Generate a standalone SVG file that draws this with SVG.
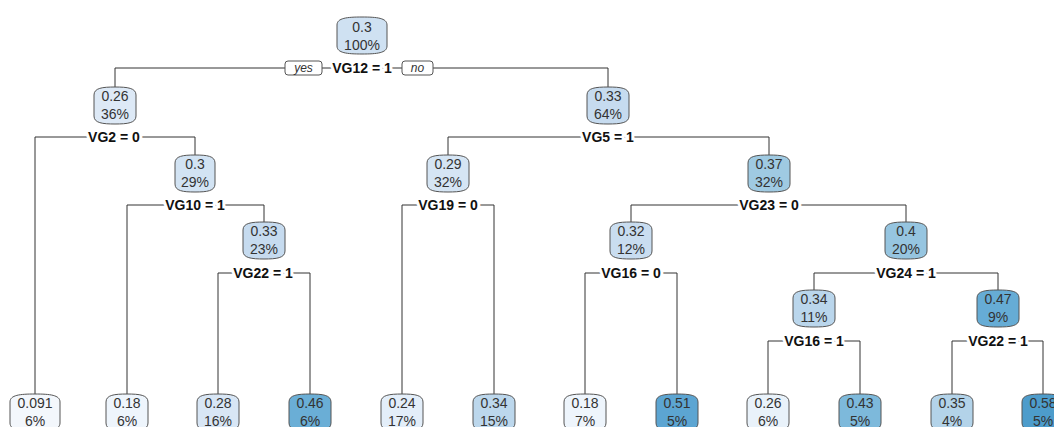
<svg xmlns="http://www.w3.org/2000/svg" xmlns:xlink="http://www.w3.org/1999/xlink" width="1054" height="427" viewBox="0 0 1054 427">
<style>
.bx{stroke:#555;stroke-width:1}
.nt{font-family:"Liberation Sans",Arial,sans-serif;font-size:14px;fill:#333;text-anchor:middle}
.sp{font-family:"Liberation Sans",Arial,sans-serif;font-size:14px;font-weight:bold;fill:#111;text-anchor:middle;stroke:#fff;stroke-width:6;stroke-linejoin:round;paint-order:stroke}
.yn{font-family:"Liberation Sans",Arial,sans-serif;font-size:12px;font-style:italic;fill:#333;text-anchor:middle}
.ynb{fill:#fff;stroke:#555;stroke-width:1}
.cn{fill:none;stroke:#333;stroke-width:1}
</style>
<defs>
<path id="b50" d="M0,8 C0,1 10,0 25,0 C40,0 50,1 50,8 L50,29 C50,36 40,37 25,37 C10,37 0,36 0,29 Z"/>
<path id="b42" d="M0,8 C0,1 8.4,0 21,0 C33.6,0 42,1 42,8 L42,29 C42,36 33.6,37 21,37 C8.4,37 0,36 0,29 Z"/>
<path id="b40" d="M0,8 C0,1 8,0 20,0 C32,0 40,1 40,8 L40,29 C40,36 32,37 20,37 C8,37 0,36 0,29 Z"/>
</defs>
<rect width="1054" height="427" fill="#fff"/>
<g id="connectors">
<path class="cn" d="M115,87 V68 H608 V87"/>
<path class="cn" d="M35,394 V137 H195 V155"/>
<path class="cn" d="M448,155 V137 H769 V155"/>
<path class="cn" d="M127,394 V205 H264 V222"/>
<path class="cn" d="M402,394 V205 H494 V394"/>
<path class="cn" d="M631,222 V205 H906 V222"/>
<path class="cn" d="M218,394 V273 H310 V394"/>
<path class="cn" d="M585,394 V273 H677 V394"/>
<path class="cn" d="M814,290 V273 H998 V290"/>
<path class="cn" d="M768,394 V341 H860 V394"/>
<path class="cn" d="M952,394 V341 H1043 V394"/>
</g>
<g id="n1"><use href="#b50" x="337" y="17" class="bx" fill="#cfe1f2"/><text class="nt" x="362" y="32">0.3</text><text class="nt" x="362" y="50">100%</text>
<rect class="ynb" x="285" y="61" width="37" height="14" rx="3"/><text class="yn" x="303.5" y="72">yes</text>
<text class="sp" x="362" y="73">VG12 = 1</text>
<rect class="ynb" x="402" y="61" width="31" height="14" rx="3"/><text class="yn" x="417.5" y="72">no</text></g>
<g id="n2"><use href="#b42" x="94" y="87" class="bx" fill="#dde9f6"/><text class="nt" x="115" y="101">0.26</text><text class="nt" x="115" y="119">36%</text><text class="sp" x="114" y="142">VG2 = 0</text></g>
<g id="n3"><use href="#b42" x="587" y="87" class="bx" fill="#c6dbef"/><text class="nt" x="608" y="101">0.33</text><text class="nt" x="608" y="119">64%</text><text class="sp" x="608" y="142">VG5 = 1</text></g>
<g id="n4"><use href="#b50" x="10" y="394" class="bx" fill="#f3f7fc"/><text class="nt" x="35" y="408">0.091</text><text class="nt" x="35" y="426">6%</text></g>
<g id="n5"><use href="#b40" x="175" y="155" class="bx" fill="#d2e3f3"/><text class="nt" x="195" y="169">0.3</text><text class="nt" x="195" y="187">29%</text><text class="sp" x="195" y="210">VG10 = 1</text></g>
<g id="n6"><use href="#b42" x="427" y="155" class="bx" fill="#d5e5f4"/><text class="nt" x="448" y="169">0.29</text><text class="nt" x="448" y="187">32%</text><text class="sp" x="448" y="210">VG19 = 0</text></g>
<g id="n7"><use href="#b42" x="748" y="155" class="bx" fill="#9fcae2"/><text class="nt" x="769" y="169">0.37</text><text class="nt" x="769" y="187">32%</text><text class="sp" x="769" y="210">VG23 = 0</text></g>
<g id="n10"><use href="#b42" x="106" y="394" class="bx" fill="#eef5fc"/><text class="nt" x="127" y="408">0.18</text><text class="nt" x="127" y="426">6%</text></g>
<g id="n11"><use href="#b42" x="243" y="222" class="bx" fill="#c6dbef"/><text class="nt" x="264" y="236">0.33</text><text class="nt" x="264" y="254">23%</text><text class="sp" x="263" y="278">VG22 = 1</text></g>
<g id="n12"><use href="#b42" x="381" y="394" class="bx" fill="#e3eef9"/><text class="nt" x="402" y="408">0.24</text><text class="nt" x="402" y="426">17%</text></g>
<g id="n13"><use href="#b42" x="473" y="394" class="bx" fill="#bcd7ec"/><text class="nt" x="494" y="408">0.34</text><text class="nt" x="494" y="426">15%</text></g>
<g id="n14"><use href="#b42" x="610" y="222" class="bx" fill="#c9ddf0"/><text class="nt" x="631" y="236">0.32</text><text class="nt" x="631" y="254">12%</text><text class="sp" x="631" y="278">VG16 = 0</text></g>
<g id="n15"><use href="#b42" x="885" y="222" class="bx" fill="#96c5e0"/><text class="nt" x="906" y="236">0.4</text><text class="nt" x="906" y="254">20%</text><text class="sp" x="906" y="278">VG24 = 1</text></g>
<g id="n22"><use href="#b42" x="197" y="394" class="bx" fill="#d8e6f5"/><text class="nt" x="218" y="408">0.28</text><text class="nt" x="218" y="426">16%</text></g>
<g id="n23"><use href="#b42" x="289" y="394" class="bx" fill="#6aaed6"/><text class="nt" x="310" y="408">0.46</text><text class="nt" x="310" y="426">6%</text></g>
<g id="n28"><use href="#b42" x="564" y="394" class="bx" fill="#eef5fc"/><text class="nt" x="585" y="408">0.18</text><text class="nt" x="585" y="426">7%</text></g>
<g id="n29"><use href="#b42" x="656" y="394" class="bx" fill="#5ca5d2"/><text class="nt" x="677" y="408">0.51</text><text class="nt" x="677" y="426">5%</text></g>
<g id="n30"><use href="#b42" x="793" y="290" class="bx" fill="#bad6ec"/><text class="nt" x="814" y="304">0.34</text><text class="nt" x="814" y="322">11%</text><text class="sp" x="814" y="346">VG16 = 1</text></g>
<g id="n31"><use href="#b42" x="977" y="290" class="bx" fill="#66acd5"/><text class="nt" x="998" y="304">0.47</text><text class="nt" x="998" y="322">9%</text><text class="sp" x="998" y="346">VG22 = 1</text></g>
<g id="n60"><use href="#b42" x="747" y="394" class="bx" fill="#e9f2fa"/><text class="nt" x="768" y="408">0.26</text><text class="nt" x="768" y="426">6%</text></g>
<g id="n61"><use href="#b42" x="839" y="394" class="bx" fill="#7db9db"/><text class="nt" x="860" y="408">0.43</text><text class="nt" x="860" y="426">5%</text></g>
<g id="n62"><use href="#b42" x="931" y="394" class="bx" fill="#b3d3e9"/><text class="nt" x="952" y="408">0.35</text><text class="nt" x="952" y="426">4%</text></g>
<g id="n63"><use href="#b42" x="1022" y="394" class="bx" fill="#4d9ccb"/><text class="nt" x="1043" y="408">0.58</text><text class="nt" x="1043" y="426">5%</text></g>
</svg>
